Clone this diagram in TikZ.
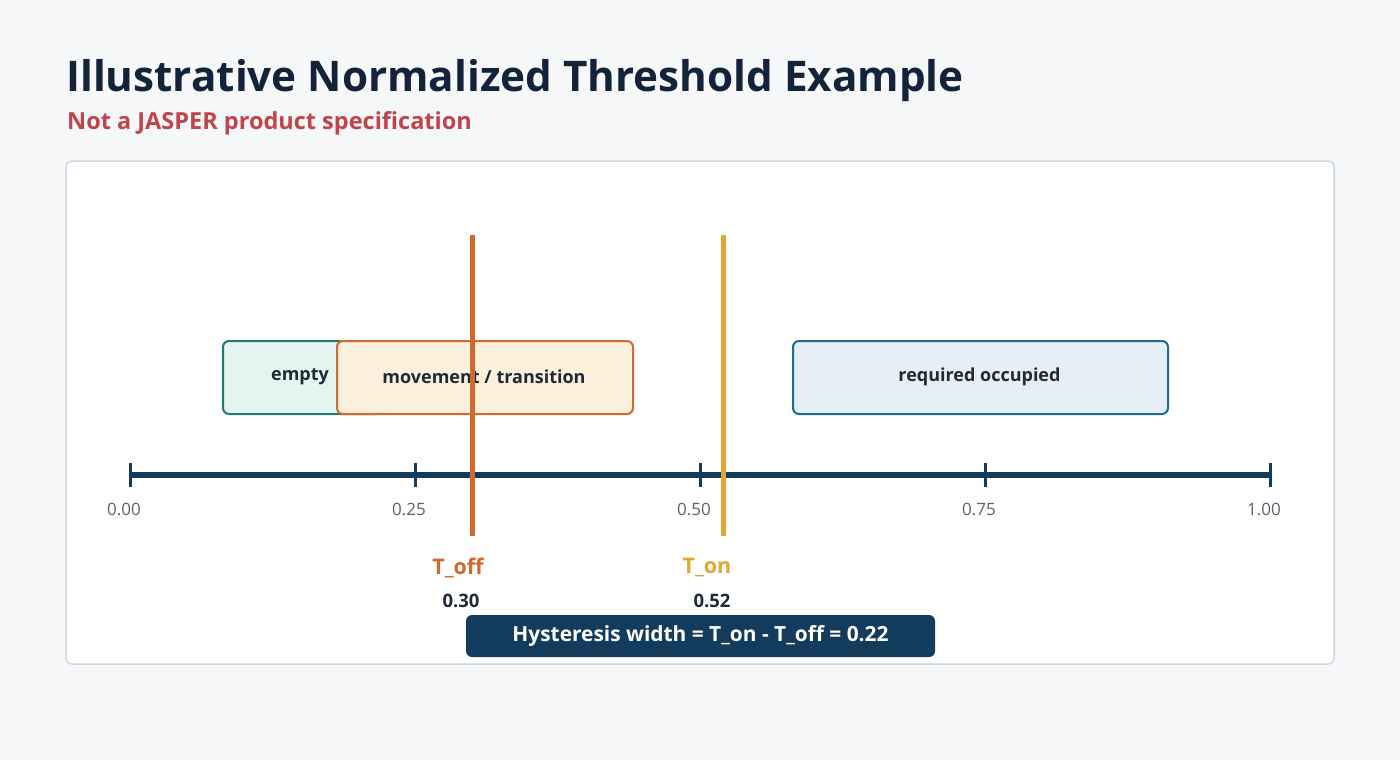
\documentclass[tikz,border=0pt]{standalone}
\usepackage{fontspec}
\setmainfont{Open Sans}
\IfFontExistsTF{Open Sans Bold}{\newfontfamily\boldfont{Open Sans Bold}}{\newfontfamily\boldfont{Open Sans}[FakeBold=2.5]}
\IfFontExistsTF{Open Sans SemiBold}{\newfontfamily\medfont{Open Sans SemiBold}}{\let\medfont\boldfont}
\definecolor{bgc}{HTML}{F5F7F9}
\definecolor{panelb}{HTML}{CBD5DF}
\definecolor{titlec}{HTML}{13233A}
\definecolor{subc}{HTML}{C0444A}
\definecolor{navy}{HTML}{133B5C}
\definecolor{offc}{HTML}{D2692F}
\definecolor{onc}{HTML}{E0A82E}
\definecolor{tealb}{HTML}{1F7A7A}
\definecolor{tealf}{HTML}{E6F4F1}
\definecolor{orangef}{HTML}{FAF0DC}
\definecolor{blueb}{HTML}{1F6B94}
\definecolor{bluef}{HTML}{E6EFF6}
\definecolor{txt}{HTML}{1F2A37}
\definecolor{tickc}{HTML}{5A6470}
\begin{document}
\begin{tikzpicture}[x=1pt,y=-1pt,
  band/.style={draw, line width=2pt, rounded corners=6pt, minimum height=73pt, inner sep=0pt, anchor=west},
  bandtext/.style={font=\fontsize{18}{21}\selectfont\medfont, text=txt, inner sep=0pt},
  ticklab/.style={font=\fontsize{17}{20}\selectfont, text=tickc},
  thr/.style={line width=5pt},
  tick/.style={navy, line width=3pt}]
\useasboundingbox (0,0) rectangle (1400,760);
\fill[bgc] (0,0) rectangle (1400,760);
\node[anchor=base west, inner sep=0pt, text=titlec, font=\fontsize{42.2}{48}\selectfont\boldfont] (title) at (66,92) {Illustrative Normalized Threshold Example};
\node[anchor=base west, inner sep=0pt, text=subc, font=\fontsize{23.5}{27}\selectfont\boldfont] (sub) at (67,129) {Not a JASPER product specification};
\draw[panelb, fill=white, line width=1.5pt, rounded corners=6pt] (66,161) rectangle (1334,664);
% bands
\node[band, draw=tealb, fill=tealf, minimum width=159pt] (empty) at (222,377.5) {};
\node[bandtext] (emptyt) at (300,376.5) {empty};
\node[band, draw=offc, fill=orangef, minimum width=296pt] (move) at (336,377.5) {};
\node[bandtext] (movet) at (484,376.5) {movement / transition};
\node[band, draw=blueb, fill=bluef, minimum width=375pt] (req) at (792,377.5) {};
\node[bandtext] (reqt) at (979.5,376.5) {required occupied};
% axis
\coordinate (a0) at (130,475);
\coordinate (a1) at (1270,475);
\draw[navy, line width=6.5pt] (a0) -- (a1);
\foreach \x/\l [count=\i] in {130/0.00, 415/0.25, 700/0.50, 985/0.75, 1270/1.00}{
  \coordinate (t\i a) at (\x,463);
  \coordinate (t\i b) at (\x,487);
  \draw[tick] (t\i a) -- (t\i b);
  \node[ticklab] (lab\i) at (\x-6,509) {\l};
}
% thresholds
\coordinate (offtop) at (472,235);
\coordinate (offbot) at (472,536);
\coordinate (ontop) at (723,235);
\coordinate (onbot) at (723,536);
\draw[thr, offc] (offtop) -- (offbot);
\draw[thr, onc] (ontop) -- (onbot);
\node[text=offc, font=\fontsize{21.5}{24}\selectfont\boldfont] (toff) at (458,568) {T\_off};
\node[text=onc, font=\fontsize{21.5}{24}\selectfont\boldfont] (ton) at (707,568) {T\_on};
\node[text=txt, font=\fontsize{18.5}{21}\selectfont\medfont] (voff) at (461,601) {0.30};
\node[text=txt, font=\fontsize{18.5}{21}\selectfont\medfont] (von) at (712,601) {0.52};
% hysteresis
\node[fill=navy, rounded corners=6pt, minimum width=469pt, minimum height=42pt, inner sep=0pt, text=white, font=\fontsize{20.9}{24}\selectfont\medfont] (hyst) at (700.5,636) {Hysteresis width = T\_on - T\_off = 0.22};
\end{tikzpicture}
\end{document}
